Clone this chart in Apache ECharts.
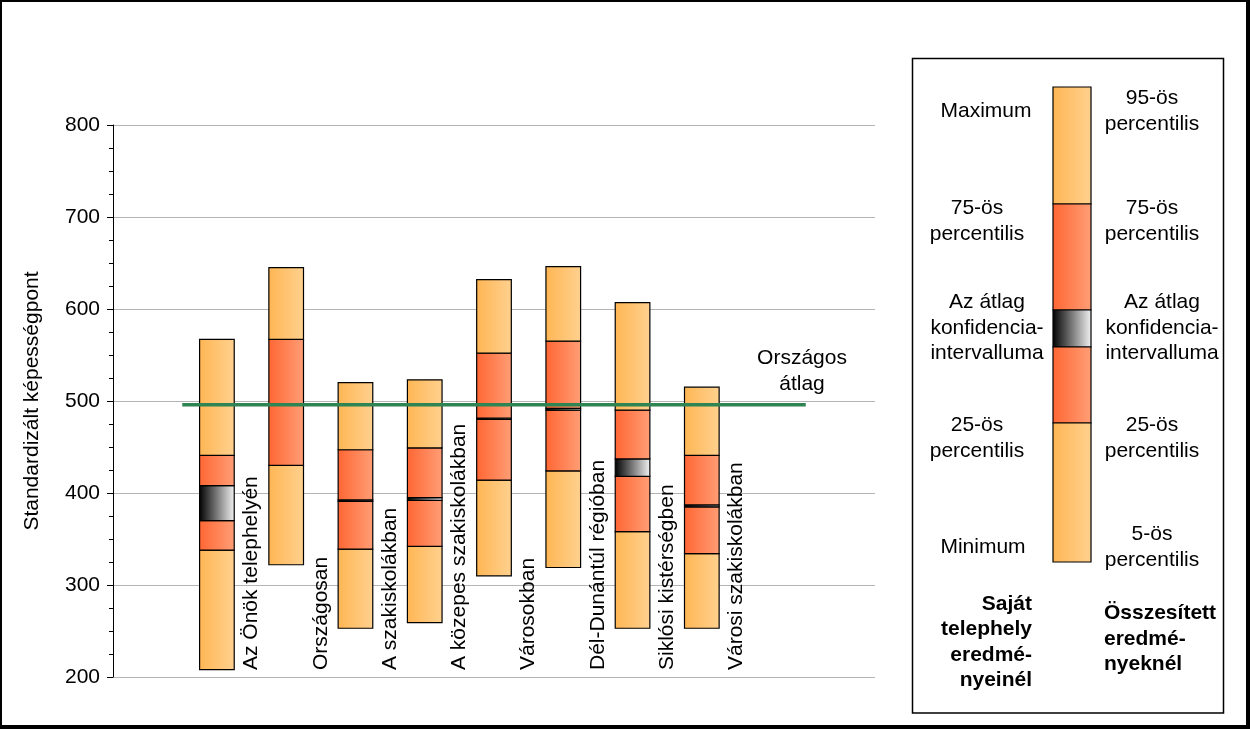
<!DOCTYPE html>
<html>
<head>
<meta charset="utf-8">
<script src="https://cdn.jsdelivr.net/npm/echarts@6/dist/echarts.min.js"></script>
<style>
html,body{margin:0;padding:0;background:#fff;}
#chart{width:1250px;height:729px;}
</style>
</head>
<body>
<div id="chart"></div>
<script>
const FONT = '"Liberation Sans", Arial, sans-serif';
const categories = ['Az Önök telephelyén','Országosan','A szakiskolákban','A közepes szakiskolákban','Városokban','Dél-Dunántúl régióban','Siklósi kistérségben','Városi szakiskolákban'];
const minVals  = [208, 322, 253, 259, 310, 319, 253, 253];
const p25Vals  = [338, 430, 339, 342, 414, 424, 358, 334];
const ciLow    = [370, 495.5, 391, 392, 480, 490, 418, 385];
const ciHigh   = [408, 496.5, 392.5, 395, 481.5, 492, 437, 387];
const p75Vals  = [441, 567, 447, 449, 552, 565, 490, 441];
const maxVals  = [567, 645, 520, 523, 632, 646, 607, 515];
const nationalAvg = 496;
const yTicks = [200, 800, 100];
const avgLabel = 'Országos\nátlag';

const chart = echarts.init(document.getElementById('chart'), null, {renderer:'canvas'});

function grad(c1, c2){
  return new echarts.graphic.LinearGradient(0,0,1,0,[{offset:0,color:c1},{offset:1,color:c2}]);
}
const LIGHT = () => grad('#FFB654','#FFD18F');
const ORANGE = () => grad('#FF6633','#FF9E76');
const CONF = () => grad('#000000','#F4F4F4');

const boxData = categories.map((c,i)=>[i+1.5, minVals[i], p25Vals[i], ciLow[i], ciHigh[i], p75Vals[i], maxVals[i]]);

function renderItem(params, api){
  const x = api.value(0);
  const vals = [1,2,3,4,5,6].map(k=>api.value(k));
  const catW = api.size([1,0])[0];
  const w = catW*0.5;
  const cx = api.coord([x, 500])[0];
  const ys = vals.map(v=>api.coord([x,v])[1]);
  const fills = [LIGHT(), ORANGE(), CONF(), ORANGE(), LIGHT()];
  const children = [];
  for(let j=0;j<5;j++){
    children.push({type:'rect', shape:{x:cx-w/2, y:ys[j+1], width:w, height:ys[j]-ys[j+1]},
      style:{fill:fills[j], stroke:'#000', lineWidth:1.2}});
  }
  children.push({type:'text', x: cx + catW/2, y: api.coord([x, yTicks[0]])[1]-7, rotation: Math.PI/2,
    style:{text: categories[params.dataIndex], font:'21px '+FONT, fill:'#000',
      align:'left', verticalAlign:'middle', textAlign:'left', textVerticalAlign:'middle'}});
  return {type:'group', children};
}

function txt(x,y,text,opts){
  opts = opts||{};
  return {type:'text', x:x, y:y, z:10, style:{text:text, font:(opts.bold?'bold ':'')+'21px '+FONT, fill:'#000',
    lineHeight:25.5, align:opts.align||'center', verticalAlign:'middle', textAlign:opts.align||'center', textVerticalAlign:'middle'}};
}

const graphic = [
  {type:'rect', shape:{x:0,y:0,width:2,height:729}, style:{fill:'#000'}},
  {type:'rect', shape:{x:0,y:0,width:1250,height:2}, style:{fill:'#000'}},
  {type:'rect', shape:{x:1246,y:0,width:4,height:729}, style:{fill:'#000'}},
  {type:'rect', shape:{x:0,y:725,width:1250,height:4}, style:{fill:'#000'}},
  {type:'rect', shape:{x:912.5,y:58.5,width:311,height:654.5}, style:{fill:'none', stroke:'#000', lineWidth:1.5}},
  {type:'rect', shape:{x:1053,y:87,width:38,height:117}, style:{fill:LIGHT(), stroke:'#000', lineWidth:1.2}},
  {type:'rect', shape:{x:1053,y:204,width:38,height:106}, style:{fill:ORANGE(), stroke:'#000', lineWidth:1.2}},
  {type:'rect', shape:{x:1053,y:310,width:38,height:37}, style:{fill:CONF(), stroke:'#000', lineWidth:1.2}},
  {type:'rect', shape:{x:1053,y:347,width:38,height:76}, style:{fill:ORANGE(), stroke:'#000', lineWidth:1.2}},
  {type:'rect', shape:{x:1053,y:423,width:38,height:139}, style:{fill:LIGHT(), stroke:'#000', lineWidth:1.2}},
  txt(986,111,'Maximum'),
  txt(977,221,'75-ös\npercentilis'),
  txt(987,328,'Az átlag\nkonfidencia-\nintervalluma'),
  txt(977,438,'25-ös\npercentilis'),
  txt(983,547,'Minimum'),
  txt(1032,642,'Saját\ntelephely\neredmé-\nnyeinél',{bold:true,align:'right'}),
  txt(1152,111,'95-ös\npercentilis'),
  txt(1152,221,'75-ös\npercentilis'),
  txt(1162,328,'Az átlag\nkonfidencia-\nintervalluma'),
  txt(1152,438,'25-ös\npercentilis'),
  txt(1152,547,'5-ös\npercentilis'),
  txt(1104,639,'Összesített\neredmé-\nnyeknél',{bold:true,align:'left'}),
  txt(802,371,avgLabel)
];

chart.setOption({
  animation:false,
  backgroundColor:'#fff',
  textStyle:{fontFamily:FONT},
  grid:{left:113, top:125, width:762, height:552, containLabel:false},
  xAxis:{type:'value', min:0, max:11, show:false},
  yAxis:{type:'value', min:yTicks[0], max:yTicks[1], interval:yTicks[2],
    name:'Standardizált képességpont', nameLocation:'middle', nameGap:70,
    nameTextStyle:{fontSize:21, color:'#000', fontFamily:FONT},
    axisLine:{show:true, lineStyle:{color:'#000', width:1}},
    axisTick:{show:true, length:6, lineStyle:{color:'#000'}},
    minorTick:{show:true, splitNumber:4, length:4, lineStyle:{color:'#000'}},
    splitLine:{show:true, lineStyle:{color:'#B5B5B5', width:1}},
    axisLabel:{fontSize:21, color:'#000', margin:13, fontFamily:FONT}
  },
  series:[
    {type:'custom', renderItem:renderItem, data:boxData, z:2, silent:true,
      encode:{x:0, y:[1,6]}, clip:false},
    {type:'line', data:[[1,nationalAvg],[10,nationalAvg]], symbol:'none', z:5, silent:true,
      lineStyle:{color:'#2F8453', width:3.5}}
  ],
  graphic:graphic
});
</script>
</body>
</html>
